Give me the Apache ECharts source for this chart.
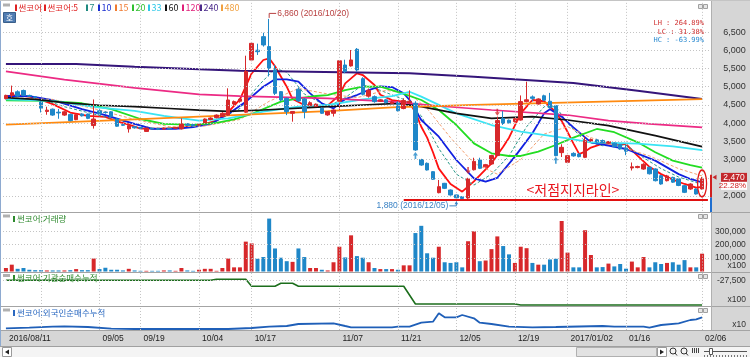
<!DOCTYPE html>
<html><head><meta charset="utf-8">
<script src="https://cdn.jsdelivr.net/npm/echarts@6/dist/echarts.min.js"></script>
<style>html,body{margin:0;padding:0;background:#fff;}#chart{width:750px;height:357px;}</style>
</head><body><div id="chart"></div>
<script>
// ---------------- DATA ----------------
const tickLabels = [[0,'2016/08/11'],[16,'09/05'],[23,'09/19'],[33,'10/04'],[42,'10/17'],[57,'11/07'],[67,'11/21'],[77,'12/05'],[87,'12/19'],[96,'2017/01/02'],[106,'01/16'],[119,'02/06']];
const gridLineIdx = [6,16,23,33,42,57,67,77,87,96,106,119];
const priceTicks = [2000,2500,3000,3500,4000,4500,5000,5500,6000,6500];
const volumeTicks = [100000,200000,300000];
const instTicks = [-27500];

// [open, close, low, high]
const ohlc = [
[4671,4761,4650,4780],[4761,4833,4700,5030],[4860,4743,4720,4900],[4896,4761,4740,4920],[4760,4740,4720,4780],
[4720,4700,4680,4740],[4581,4410,4293,4600],[4320,4356,4230,4450],[4383,4221,4200,4400],[4300,4280,4120,4390],
[4221,4311,4200,4330],[4239,4068,4050,4260],[4095,4230,4080,4250],[4250,4200,4180,4270],[4248,4131,4110,4260],
[3933,4113,3850,4650],[4338,4248,4230,4380],[4300,4290,4260,4320],[4311,4185,4170,4330],[4113,3915,3900,4130],
[3960,3940,3920,3980],[3843,3933,3740,3990],[3900,3870,3850,3920],[3880,3860,3840,3900],[3771,3861,3760,3880],
[3860,3840,3820,3870],[3850,3830,3810,3870],[3840,3860,3820,3880],[3850,3840,3830,3870],[3860,3870,3840,3890],
[3843,3978,3825,4130],[3980,3940,3920,4000],[3960,3920,3900,3990],[3950,3970,3930,4000],[4005,4113,3990,4130],
[4100,4140,4080,4160],[4150,4220,4130,4240],[4180,4270,4160,4300],[4220,4635,4200,4955],[4525,4590,4500,4620],
[4600,4660,4560,4680],[4300,5420,4280,5850],[5732,6190,5700,6220],[6000,5960,5870,6180],[6373,6145,6100,6480],
[6100,5505,5280,6860],[5460,4818,4770,5600],[4864,4635,4600,4880],[4680,4315,4220,4700],[4270,4320,4040,4330],
[4930,4610,4580,4980],[4660,4315,4130,4690],[4480,4560,4450,4600],[4460,4520,4440,4540],[4405,4270,4250,4430],
[4225,4315,4200,4330],[4270,4360,4180,4380],[4600,5710,4360,5720],[5595,5413,5370,5740],[5570,5733,5550,6007],
[6026,5459,5410,6060],[5220,4790,4760,5260],[4740,4900,4700,4950],[4727,4590,4560,4760],[4600,4640,4580,4660],
[4640,4560,4540,4660],[4540,4580,4520,4600],[4560,4340,4320,4600],[4400,4620,4380,4680],[4560,4600,4540,4900],
[4545,3263,3240,4600],[3000,2850,2830,3020],[2897,2714,2700,2920],[2668,2460,2440,2680],[2091,2256,2073,2440],
[2348,2210,2190,2360],[2165,2028,2010,2180],[2030,1950,1880,2040],[1980,1930,1910,2000],[1945,2470,1920,2500],
[2720,2950,2700,3050],[2990,2760,2740,3050],[2800,2860,2780,2880],[2878,3110,2860,3130],[3110,4070,3100,4180],
[4130,3990,3950,4330],[4080,4010,3990,4100],[4040,4120,4020,4140],[4085,4590,4070,4760],[4590,4640,4570,5137],
[4720,4680,4600,4760],[4525,4663,4510,4680],[4750,4630,4600,4780],[4600,4420,4400,4830],[4480,3107,3090,4500],
[3190,3336,3070,3420],[2924,3107,2900,3130],[3170,3100,3080,3200],[3150,3080,3060,3180],[3061,3519,3040,3630],
[3510,3550,3500,3580],[3540,3480,3460,3570],[3520,3460,3450,3550],[3450,3490,3430,3510],[3450,3350,3340,3470],
[3410,3290,3270,3430],[3320,3230,3120,3400],[2770,2800,2700,2920],[2780,2810,2760,2830],[2740,2870,2720,2900],
[2790,2610,2590,2800],[2741,2420,2400,2760],[2558,2330,2310,2580],[2420,2550,2400,2580],[2510,2380,2360,2530],
[2470,2290,2270,2490],[2284,2100,2080,2300],[2192,2329,2170,2350],[2192,2055,2040,2210],[2192,2470,2180,2520]
];

const volume = [
26000,51000,20000,26000,13000,10000,10000,8000,8000,8000,
8000,10000,18000,10000,10000,97000,18000,28000,13000,13000,
8000,20000,8000,5000,5000,5000,5000,8000,8000,5000,
26000,8000,5000,13000,20000,20000,5000,26000,97000,31000,
31000,223000,210000,95000,108000,395000,172000,103000,77000,72000,
172000,108000,26000,26000,13000,8000,69000,185000,105000,270000,
115000,103000,69000,26000,18000,18000,18000,13000,46000,46000,
287000,341000,136000,103000,185000,69000,64000,69000,31000,226000,
300000,77000,82000,167000,262000,190000,128000,64000,185000,174000,
64000,51000,51000,90000,95000,377000,141000,31000,31000,308000,
123000,31000,33000,59000,38000,56000,21000,74000,31000,108000,
31000,69000,56000,64000,69000,51000,85000,31000,31000,133000
];

// moving averages: [day index, value]
const ma5 = [[0,4740],[2,4770],[5,4700],[8,4520],[11,4290],[14,4200],[17,4170],[19,4050],[21,3960],[23,3850],[27,3850],[30,3880],[33,3930],[36,4070],[38,4300],[40,4650],[42,5366],[44,5732],[45,5778],[46,5560],[48,5000],[49,4660],[51,4497],[53,4470],[55,4480],[57,4771],[58,5091],[60,5366],[61,5320],[63,5046],[64,4780],[66,4630],[69,4560],[70,4300],[71,3900],[72,3600],[73,3200],[74,2750],[76,2330],[78,2119],[80,2400],[83,2897],[85,3350],[86,3600],[88,4268],[90,4634],[92,4600],[94,4300],[95,4060],[96,3760],[97,3445],[98,3150],[99,3220],[100,3330],[102,3440],[104,3440],[106,3420],[108,3100],[110,2800],[112,2600],[114,2450],[116,2330],[118,2230],[119,2250]];
const ma7 = [[0,4740],[5,4720],[10,4450],[15,4250],[20,4050],[25,3860],[30,3860],[35,3980],[40,4400],[43,5000],[46,5500],[48,5400],[51,4800],[55,4450],[58,4700],[61,5050],[64,4900],[68,4650],[71,4200],[74,3300],[77,2600],[80,2300],[83,2600],[86,3100],[89,3900],[92,4450],[94,4450],[96,4000],[99,3500],[102,3380],[106,3400],[109,3050],[112,2750],[115,2520],[119,2320]];
const ma10 = [[0,4743],[4,4740],[8,4630],[13,4383],[17,4221],[22,3978],[25,3843],[29,3843],[32,3888],[35,3978],[38,4250],[41,4588],[44,5000],[46,5201],[48,5201],[50,5137],[52,4817],[54,4543],[56,4405],[58,4660],[60,4771],[62,4908],[64,5010],[66,4990],[68,4817],[69,4634],[71,4085],[74,3628],[77,2988],[80,2485],[82,2394],[84,2500],[87,3080],[90,3720],[92,4268],[93,4378],[95,4177],[97,3885],[100,3473],[103,3380],[106,3290],[111,2970],[115,2600],[117,2467],[119,2375]];
const ma15 = [[0,4700],[8,4650],[15,4400],[22,4100],[28,3900],[34,3920],[40,4100],[45,4600],[50,4950],[55,4800],[60,4700],[65,4900],[69,4800],[72,4400],[76,3600],[80,2900],[84,2600],[88,3000],[92,3700],[96,3900],[100,3600],[105,3350],[110,3100],[115,2750],[119,2550]];
const ma20 = [[0,4626],[7,4608],[13,4545],[18,4383],[23,4113],[27,3978],[32,3951],[36,4005],[39,4100],[42,4250],[47,4588],[50,4680],[53,4744],[55,4771],[58,4908],[61,5000],[64,5000],[66,4908],[68,4800],[71,4634],[74,4360],[77,3948],[80,3445],[83,3171],[86,3098],[88,3098],[91,3217],[94,3400],[97,3600],[101,3839],[104,3750],[108,3473],[111,3200],[114,2970],[117,2850],[119,2780]];
const ma33 = [[0,4653],[8,4608],[16,4428],[22,4338],[27,4200],[33,4070],[38,4130],[44,4314],[50,4451],[55,4497],[61,4650],[66,4740],[69,4860],[71,4726],[74,4500],[77,4268],[83,3948],[88,3765],[96,3582],[100,3473],[108,3440],[114,3360],[119,3260]];
const ma60 = [[0,4698],[5,4653],[10,4563],[16,4491],[22,4450],[28,4401],[33,4356],[38,4320],[44,4360],[55,4451],[61,4497],[67,4543],[71,4451],[77,4268],[83,4131],[90,4177],[96,4085],[103,3931],[111,3656],[119,3354]];
const ma120 = [[0,5418],[10,5193],[22,4968],[33,4788],[40,4743],[55,4680],[66,4590],[74,4470],[83,4360],[96,4222],[103,4068],[110,3980],[119,3885]];
const ma240 = [[0,5625],[12,5620],[22,5550],[33,5480],[40,5440],[69,5366],[80,5270],[97,5100],[108,4891],[119,4663]];
const ma480 = [[0,3960],[20,4090],[40,4225],[55,4330],[66,4430],[80,4500],[97,4570],[119,4660]];

const instCum = [[0,-27500],[35,-27500],[36,-27450],[41,-27450],[42,-27800],[46,-27800],[47,-27650],[49,-27650],[50,-27800],[68,-27800],[70,-28700],[87,-28700],[88,-28750],[119,-28750]];
const foreignCum = [[0,170],[4,230],[8,330],[10,370],[14,300],[18,130],[22,100],[38,100],[42,200],[45,330],[48,400],[50,600],[56,670],[58,400],[59,270],[66,270],[67,330],[69,330],[71,730],[73,830],[74,1670],[75,1270],[77,1270],[78,1500],[80,1170],[81,730],[83,600],[86,330],[90,270],[94,300],[102,400],[104,330],[109,330],[110,230],[112,500],[115,670],[117,1000],[118,1070],[119,1270]];

const sigUp = [[70,3110],[94,2980]];
const sigDown = [[79,2700],[84,4300]];
const highMark = [45, 6860, '6,860 (2016/10/20)'];
const lowMark = [77, 1880, '1,880 (2016/12/05)'];
const supportLevel = 1900, supportFrom = 68;
const lastClose = 2470, lastChange = '22.28%';
const circleAt = [119, 2343];
const statTexts = [['LH : 264.89%','#d03030'],['LC : 31.38%','#d03030'],['HC : -63.99%','#2a8ad0']];
const legendItems = [[15,'썬코어','#dd2020'],[44,'썬코어:5','#e02020'],[86,'7','#1f8a80'],[98,'10','#1a2ed0'],[115,'15','#f07a30'],[132,'20','#30c030'],[148,'33','#30c8e8'],[165,'60','#111111'],[182,'120','#e0207a'],[200,'240','#4a2a8a'],[221,'480','#f0a040']];
const panelTitles = [[219,'썬코어:거래량','#2e8a2e'],[278,'썬코어:기관순매수누적','#2e8a2e'],[313,'썬코어:외국인순매수누적','#2a68c0']];

// ---------------- STYLE ----------------
const C_UP = '#d7282b', C_DN = '#1f87c8';
const maStyles = [
  ['썬코어:5', ma5, '#ff1010', 1.8, 'solid'],
  ['7', ma7, '#2a9a8a', 1, [3,2]],
  ['10', ma10, '#1020e0', 1.8, 'solid'],
  ['15', ma15, '#f4a070', 1, [3,2]],
  ['20', ma20, '#22dd22', 1.8, 'solid'],
  ['33', ma33, '#3ae4f4', 1.8, 'solid'],
  ['60', ma60, '#111111', 1.7, 'solid'],
  ['120', ma120, '#ec2a84', 1.7, 'solid'],
  ['240', ma240, '#35157a', 2, 'solid'],
  ['480', ma480, '#ff8a10', 1.7, 'solid']
];
const N = ohlc.length;
const cats = Array.from({length: N + 1}, (_, i) => String(i));
const tickMap = new Map(tickLabels);
const GL = 3, GW = 121 * 5.85;
const dotted = {color:'#c4c4c4', type:[1,2], width:1};
const supportStyle = {color:'#e01010', type:'solid', width:2};
const mlBase = {symbol:['none','none'], silent:true, label:{show:false}, lineStyle:dotted, animation:false, emphasis:{disabled:true}};
const ARROW = 'path://M3,0L6,4L4,4L4,8L2,8L2,4L0,4Z';

const grids = [
  {top:2.87, height:211.35},
  {top:213.9, height:57.6},
  {top:270.4, height:39.5},
  {top:306, height:24}
].map(g => Object.assign({left:GL, width:GW, show:false, containLabel:false, outerBoundsMode:'none'}, g));

const xAxes = [0,1,2,3].map(g => ({
  type:'category', gridIndex:g, data:cats, boundaryGap:true,
  axisLine:{show:false}, axisTick:{show:false}, splitLine:{show:false},
  axisLabel: g === 3 ? {show:true, interval:(i) => tickMap.has(i), formatter:(v) => tickMap.get(Number(v)) || '',
    align:'left', margin:4, padding:[0,0,0,3], color:'#222', fontSize:8.5, fontFamily:'Liberation Sans'} : {show:false}
}));
const yl = (extra) => Object.assign({color:'#333', fontFamily:'Liberation Sans', align:'right', margin:35}, extra);
const yAxes = [
  {type:'value', gridIndex:0, position:'right', min:1500, max:7300, interval:500, splitLine:{show:false}, axisLine:{show:false}, axisTick:{show:false},
   axisLabel: yl({fontSize:9, formatter:(v) => priceTicks.includes(v) ? v.toLocaleString('en-US') : ''})},
  {type:'value', gridIndex:1, position:'right', min:0, max:430000, interval:100000, splitLine:{show:false}, axisLine:{show:false}, axisTick:{show:false},
   axisLabel: yl({fontSize:8.5, formatter:(v) => volumeTicks.includes(v) ? v.toLocaleString('en-US') : ''})},
  {type:'value', gridIndex:2, position:'right', min:-29000, max:-27000, interval:500, splitLine:{show:false}, axisLine:{show:false}, axisTick:{show:false},
   axisLabel: yl({fontSize:8.5, formatter:(v) => instTicks.includes(v) ? v.toLocaleString('en-US') : ''})},
  {type:'value', gridIndex:3, position:'right', min:0, max:2400, show:false}
];

const mainMarks = [
  ...priceTicks.map(v => ({yAxis:v})),
  ...gridLineIdx.map(i => [{coord:[String(i), 7300]}, {coord:[String(i), 1560]}]),
  [{coord:[String(supportFrom), supportLevel], lineStyle:supportStyle}, {coord:[String(N), supportLevel], lineStyle:supportStyle}]
];

const series = [
  {name:'썬코어', type:'candlestick', xAxisIndex:0, yAxisIndex:0, data:ohlc, barWidth:4, z:4,
   itemStyle:{color:C_UP, color0:C_DN, borderColor:C_UP, borderColor0:C_DN, borderWidth:1},
   markLine:Object.assign({}, mlBase, {data:mainMarks})},
  ...maStyles.map(([name, data, color, width, type]) => ({
    name, type:'line', xAxisIndex:0, yAxisIndex:0, data, symbol:'none', showSymbol:false, silent:true, z:3,
    lineStyle:{color, width, type}
  })),
  {type:'scatter', xAxisIndex:0, yAxisIndex:0, data:sigUp, symbol:ARROW, symbolSize:[5,7], itemStyle:{color:C_DN}, z:5, silent:true},
  {type:'scatter', xAxisIndex:0, yAxisIndex:0, data:sigDown, symbol:ARROW, symbolSize:[5,7], symbolRotate:180, itemStyle:{color:C_UP}, z:5, silent:true},
  {name:'거래량', type:'bar', xAxisIndex:1, yAxisIndex:1, barWidth:4,
   data: volume.map((v, i) => ({value:v, itemStyle:{color: ohlc[i][1] >= ohlc[i][0] ? C_UP : C_DN}})),
   markLine:Object.assign({}, mlBase, {data:[...volumeTicks.map(v => ({yAxis:v})), ...gridLineIdx.map(i => ({xAxis:String(i)}))]})},
  {name:'기관순매수누적', type:'line', xAxisIndex:2, yAxisIndex:2, data:instCum, symbol:'none', silent:true,
   lineStyle:{color:'#1c6e1c', width:1.6},
   markLine:Object.assign({}, mlBase, {data:[{yAxis:-27500}, ...gridLineIdx.map(i => [{coord:[String(i), -27130]}, {coord:[String(i), -28800]}])]})},
  {name:'외국인순매수누적', type:'line', xAxisIndex:3, yAxisIndex:3, data:foreignCum, symbol:'none', silent:true,
   lineStyle:{color:'#1f5fb8', width:1.8},
   markLine:Object.assign({}, mlBase, {data:gridLineIdx.map(i => ({xAxis:String(i)}))})}
];

const chart = echarts.init(document.getElementById('chart'), null, {renderer:'canvas'});
chart.setOption({animation:false, backgroundColor:'#ffffff', grid:grids, xAxis:xAxes, yAxis:yAxes, series});

// ---------------- DECORATION / ANNOTATIONS ----------------
const px = (g, x, y) => chart.convertToPixel({gridIndex:g}, [x, y]);
const els = [];
const R = (x, y, w, h, fill, stroke, z) => els.push({type:'rect', shape:{x, y, width:w, height:h}, style:{fill:fill || 'none', stroke:stroke || null, lineWidth:1}, z: z === undefined ? -100 : z, silent:true});
const L = (x1, y1, x2, y2, stroke, w, z) => els.push({type:'line', shape:{x1, y1, x2, y2}, style:{stroke, lineWidth:w || 1}, z: z === undefined ? -90 : z, silent:true});
const T = (x, y, text, fill, font, align, z) => els.push({type:'text', x, y, style:{text, fill, font, align: align || 'left', verticalAlign:'middle', textAlign: align || 'left', textVerticalAlign:'middle'}, z: z === undefined ? 100 : z, silent:true});
const PG = (points, fill, z) => els.push({type:'polygon', shape:{points}, style:{fill}, z: z === undefined ? 100 : z, silent:true});
const PL = (points, stroke, z) => els.push({type:'polyline', shape:{points}, style:{stroke, lineWidth:1, fill:'none'}, z: z === undefined ? 100 : z, silent:true});

// backgrounds and frames
R(711, 0, 39, 330, '#d6d6d6');
R(0, 330, 750, 16, '#d6d6d6');
[212.5, 272.5, 306.5, 330.5].forEach(y => L(0, y, 750, y, '#a4a4a4'));
L(711.5, 0, 711.5, 330, '#b0b0b0');
L(0.5, 0, 0.5, 346, '#8eaad0');
L(0, 0.5, 750, 0.5, '#c4c4c4');
// scrollbar row
R(0, 346, 750, 11, '#f4f4f4');
L(0, 346.5, 750, 346.5, '#a0a0a0');
R(2.5, 347.5, 9, 9, '#ffffff', '#9a9a9a', -80);
PG([[5, 352], [9, 349.5], [9, 354.5]], '#222');
R(576.5, 347.5, 80, 9, '#e2e2e2', '#b0b0b0', -80);
R(657.5, 347.5, 9, 9, '#ffffff', '#9a9a9a', -80);
PG([[664, 352], [660, 349.5], [660, 354.5]], '#222');
els.push({type:'circle', shape:{cx:673, cy:351, r:3}, style:{fill:'none', stroke:'#333', lineWidth:1}, z:100, silent:true});
els.push({type:'circle', shape:{cx:684, cy:351, r:3}, style:{fill:'none', stroke:'#333', lineWidth:1}, z:100, silent:true});
L(675, 353, 677, 355.5, '#333', 1, 100); L(686, 353, 688, 355.5, '#333', 1, 100);
[692, 694, 696, 698].forEach(x => L(x + 0.5, 348, x + 0.5, 353, '#444', 1, 100));
L(704, 351.5, 747, 351.5, '#555', 1, 100);
R(709.5, 348.5, 3, 6, '#ffffff', '#555', 100);
for (let x = 704; x <= 747; x += 3) L(x + 0.5, 355, x + 0.5, 357, '#777', 1, 100);

// small panel controls
[4, 214, 274, 308].forEach((y, k) => {
  R(698.5, y + 0.5, 4, 4, '#e6e6e6', '#a0a0a0', 50);
  R(703.5, y + 0.5, 4, 4, '#e6e6e6', '#a0a0a0', 50);
  R(3, [3.5, 214.5, 274, 308.5][k], 7, 3, '#b0b0b0', null, 50);
});
// 호 button
R(3.5, 12.5, 12, 10, '#4f7cb2', '#3a5f8a', 50);
T(9.5, 17.7, '호', '#ffffff', '7.5px "Noto Sans CJK KR"', 'center');

// legend
legendItems.forEach(([x, text, color]) => {
  R(x, 4.5, 2, 6.5, color, null, 100);
  const hangul = /[가-힣]/.test(text);
  T(x + 3.5, 7.8, text, color, (hangul ? '8.5px' : '9px') + ' "Noto Sans CJK KR"', 'left');
});
// panel titles
panelTitles.forEach(([y, text, color]) => {
  R(13, y - 3, 2, 6, color, null, 100);
  T(17, y, text, color, '8.5px "Noto Sans CJK KR"', 'left');
});
// unit labels
T(746, 266, 'x100', '#333', '8.5px "Liberation Sans"', 'right');
T(746, 299.5, 'x100', '#333', '8.5px "Liberation Sans"', 'right');
T(746, 325, 'x10', '#333', '8.5px "Liberation Sans"', 'right');

// LH / LC / HC
statTexts.forEach(([t, c], k) => T(704, 23.5 + k * 8.3, t, c, '7px "DejaVu Sans Mono"', 'right'));

// high / low annotations
const [hx, hy] = px(0, highMark[0], highMark[1]);
PL([[hx, hy - 1], [hx, hy - 5.5], [hx + 7, hy - 5.5]], '#b84040');
T(hx + 8, hy - 5.5, highMark[2], '#b84040', '8.5px "Liberation Sans"', 'left');
const [lx, ly] = px(0, lowMark[0], lowMark[1]);
PL([[lx - 7, ly + 5.5], [lx, ly + 5.5], [lx, ly + 1.5]], '#3a82c4');
PG([[lx - 1.8, ly + 3.8], [lx, ly + 1], [lx + 1.8, ly + 3.8]], '#3a82c4');
T(lx - 8, ly + 5, lowMark[2], '#3a82c4', '8.5px "Liberation Sans"', 'right');

// support line caption
const [sx, sy] = px(0, 89, supportLevel);
T(sx, sy - 9.5, '<저점지지라인>', '#e8141c', '14px "Noto Sans CJK KR"', 'left');

// circle around the last candle
const [ex, ey] = px(0, circleAt[0], circleAt[1]);
els.push({type:'ellipse', shape:{cx:ex, cy:ey, rx:4.5, ry:13.5}, style:{fill:'none', stroke:'#e01818', lineWidth:1.3}, z:100, silent:true});

// last price box
const by = px(0, N - 1, lastClose)[1] - 1.5;
R(721, by - 4.5, 26, 9, '#c3272b', null, 100);
T(734, by + 0.3, lastClose.toLocaleString('en-US'), '#ffffff', '8.5px "Liberation Sans"', 'center');
R(721, by + 4.5, 26, 8, '#ffffff', null, 100);
T(746, by + 8.7, lastChange, '#d02020', '8px "Liberation Sans"', 'right');
PG([[712.5, by], [716.5, by - 2.5], [716.5, by + 2.5]], '#c3272b');
const ry1 = px(0, N - 1, 2580)[1], ry2 = px(0, N - 1, 1960)[1];
L(711, ry1, 711, ry2, '#d02020', 2, 100);
L(711, ry2, 711, 212, '#1f6fd0', 2, 100);

chart.setOption({graphic:{elements:els}});
</script>
</body></html>
